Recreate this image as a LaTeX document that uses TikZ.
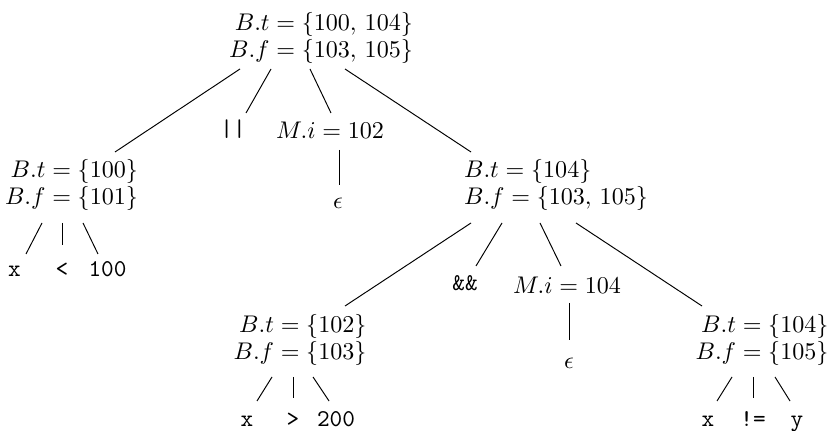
\documentclass[tikz,border=0pt]{standalone}
\usepackage{amsmath}
\usetikzlibrary{calc}

\begin{document}
\begin{tikzpicture}[
  x=0.415pt, y=-0.415pt,
  every node/.style={font=\fontsize{10}{11}\selectfont},
  attr/.style={align=right},
  leaf/.style={font=\ttfamily, anchor=base},
  edge/.style={line width=0.4pt},
]
  \useasboundingbox (0,0) rectangle (834,431);

  % ---------- Root ----------
  \node[attr] (root) at (321,38) {$B.t = \{100,\,104\}$\\$B.f = \{103,\,105\}$};

  % ---------- Level 1 ----------
  \node[attr]  (bt1)  at (71.5,185) {$B.t = \{100\}$\\$B.f = \{101\}$};
  \node[leaf]  (bar)  at (233,137)  {||};
  \node        (mi1)  at (330,130)  {$M.i = 102$};
  \node        (eps1) at (338,203)  {$\epsilon$};
  \node[align=left] (bt2) at (556,185) {$B.t = \{104\}$\\$B.f = \{103,\,105\}$};

  \draw[edge] ($(root)+(-81,31)$) -- ($(bt1)+(43.5,-33)$);
  \draw[edge] ($(root)+(-50,31)$) -- ($(bar.base)+(13,-24)$);
  \draw[edge] ($(root)+(-11,31)$) -- ($(mi1)+(1,-17)$);
  \draw[edge] ($(root)+(24,31)$)  -- ($(bt2)+(-85,-33)$);
  \draw[edge] ($(mi1)+(9,20)$)    -- ($(eps1)+(1,-18)$);

  % ---------- Leaves of B.t = {100} ----------
  \node[leaf] (x1)   at (14.5,277) {x};
  \node[leaf] (lt1)  at (62,277)   {<};
  \node[leaf] (n100) at (107.5,277) {100};
  \draw[edge] ($(bt1)+(-29.5,38)$) -- ($(x1.base)+(11.5,-23)$);
  \draw[edge] ($(bt1)+(-9.5,38)$)  -- ($(lt1.base)+(0,-32)$);
  \draw[edge] ($(bt1)+(11.5,38)$)  -- ($(n100.base)+(-9.5,-23)$);

  % ---------- Level 2 ----------
  \node[attr] (bt3)  at (300,340) {$B.t = \{102\}$\\$B.f = \{103\}$};
  \node[leaf] (and)  at (465,291) {\&\&};
  \node       (mi2)  at (567,285) {$M.i = 104$};
  \node       (eps2) at (569,363) {$\epsilon$};
  \node[attr] (bt4)  at (762,340) {$B.t = \{104\}$\\$B.f = \{105\}$};

  \draw[edge] ($(bt2)+(-85,38)$) -- ($(bt3)+(45,-34)$);
  \draw[edge] ($(bt2)+(-54,38)$) -- ($(and.base)+(11,-25)$);
  \draw[edge] ($(bt2)+(-16,38)$) -- ($(mi2)+(-6,-19)$);
  \draw[edge] ($(bt2)+(20,38)$)  -- ($(bt4)+(-60,-34)$);
  \draw[edge] ($(mi2)+(2,18)$)   -- ($(eps2)+(0,-23)$);

  % ---------- Leaves of B.t = {102} and B.t = {104} ----------
  \node[leaf] (x2)   at (247,427) {x};
  \node[leaf] (gt)   at (293,427) {>};
  \node[leaf] (n200) at (336,427) {200};
  \draw[edge] ($(bt3)+(-28,37)$) -- ($(x2.base)+(10,-26)$);
  \draw[edge] ($(bt3)+(-7,37)$)  -- ($(gt.base)+(0,-29)$);
  \draw[edge] ($(bt3)+(13,37)$)  -- ($(n200.base)+(-7,-26)$);

  \node[leaf] (x3) at (708,427) {x};
  \node[leaf] (ne) at (753,427) {!=};
  \node[leaf] (y3) at (797,427) {y};
  \draw[edge] ($(bt4)+(-30,37)$) -- ($(x3.base)+(9,-26)$);
  \draw[edge] ($(bt4)+(-9,37)$)  -- ($(ne.base)+(0,-29)$);
  \draw[edge] ($(bt4)+(13,37)$)  -- ($(y3.base)+(-7,-26)$);
\end{tikzpicture}
\end{document}
